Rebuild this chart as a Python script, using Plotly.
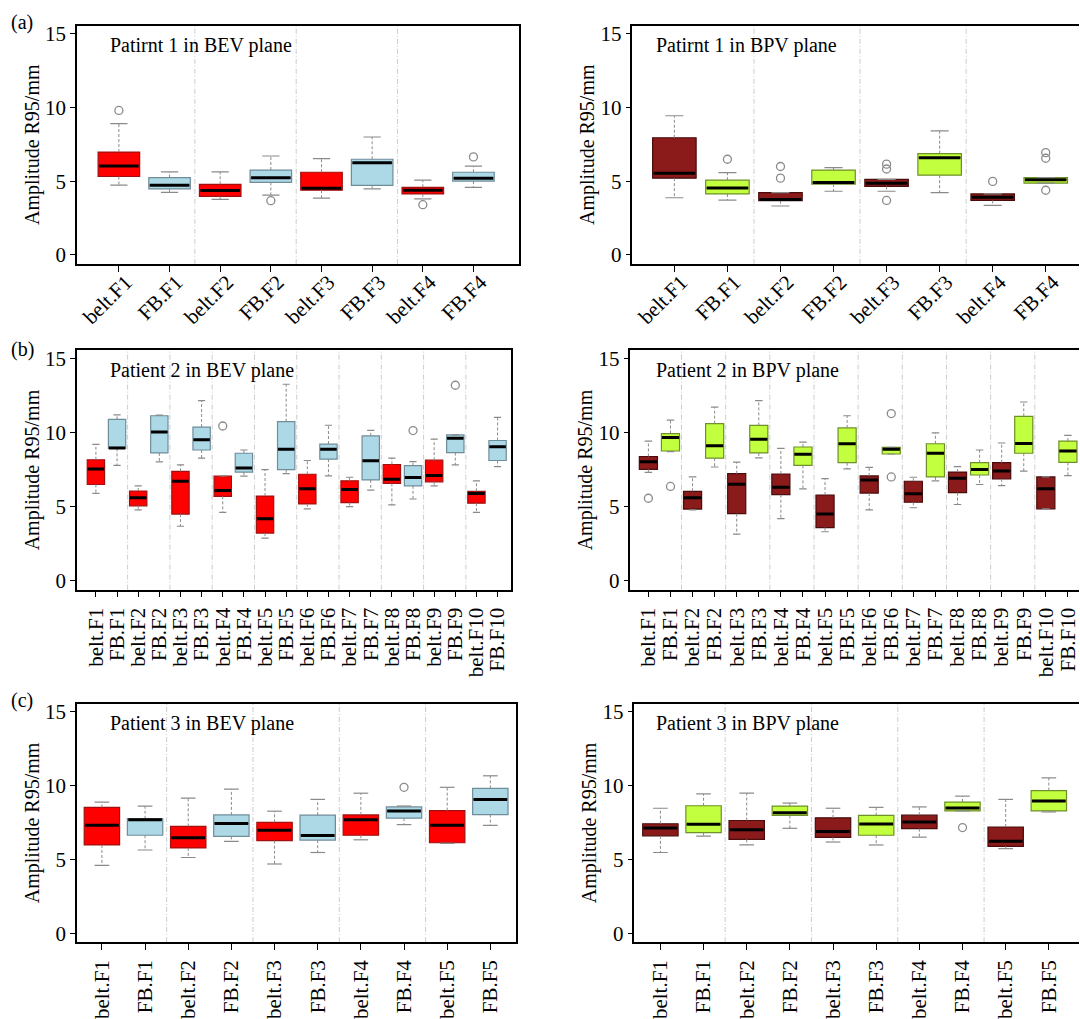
import plotly.graph_objects as go

FONT = "Liberation Serif, Times New Roman, serif"
W, H = 1080, 1019

# ---------------- data: (lower whisker, Q1, median, Q3, upper whisker) ----------------
LABELS_4 = ["belt.F1", "FB.F1", "belt.F2", "FB.F2", "belt.F3", "FB.F3", "belt.F4", "FB.F4"]
LABELS_10 = ["belt.F1", "FB.F1", "belt.F2", "FB.F2", "belt.F3", "FB.F3", "belt.F4", "FB.F4",
             "belt.F5", "FB.F5", "belt.F6", "FB.F6", "belt.F7", "FB.F7", "belt.F8", "FB.F8",
             "belt.F9", "FB.F9", "belt.F10", "FB.F10"]
LABELS_5 = ["belt.F1", "FB.F1", "belt.F2", "FB.F2", "belt.F3", "FB.F3", "belt.F4", "FB.F4",
            "belt.F5", "FB.F5"]

# Patient 1, BEV
P1_BEV_BELT = [(4.74, 5.32, 6.03, 6.98, 8.90), (3.77, 3.97, 4.37, 4.79, 5.63),
               (3.86, 4.39, 4.52, 5.61, 6.54), (3.81, 4.14, 4.39, 4.59, 5.07)]
P1_BEV_BELT_OUT = [[9.80], [], [], [3.41]]
P1_BEV_FB = [(4.25, 4.48, 4.72, 5.25, 5.63), (4.06, 4.92, 5.23, 5.76, 6.71),
             (4.48, 4.72, 6.25, 6.49, 8.00), (4.59, 5.01, 5.21, 5.61, 6.03)]
P1_BEV_FB_OUT = [[], [3.68], [], [6.65]]

# Patient 1, BPV
P1_BPV_BELT = [(3.88, 5.21, 5.54, 7.95, 9.44), (3.32, 3.68, 3.77, 4.23, 4.23),
               (4.32, 4.65, 4.87, 5.12, 5.12), (3.37, 3.70, 3.92, 4.14, 4.14)]
P1_BPV_BELT_OUT = [[], [5.21, 6.00], [3.70, 5.83, 6.16], [4.99]]
P1_BPV_FB = [(3.72, 4.14, 4.54, 5.07, 5.58), (4.32, 4.81, 4.92, 5.76, 5.92),
             (4.23, 5.41, 6.60, 6.87, 8.42), (4.87, 4.87, 5.10, 5.25, 5.25)]
P1_BPV_FB_OUT = [[6.49], [], [], [4.39, 6.56, 6.94]]

# Patient 2, BEV
P2_BEV_BELT = [(5.90, 6.50, 7.54, 8.17, 9.21), (4.79, 5.06, 5.61, 6.06, 6.41),
               (3.68, 4.50, 6.72, 7.39, 7.83), (4.62, 5.70, 6.10, 7.06, 7.08),
               (2.88, 3.22, 4.19, 5.72, 7.50), (4.86, 5.19, 6.21, 7.19, 8.12),
               (5.01, 5.28, 6.17, 6.75, 6.99), (5.13, 6.57, 6.86, 7.85, 8.28),
               (6.41, 6.68, 7.10, 8.14, 9.56), (4.62, 5.24, 5.90, 6.04, 6.75)]
P2_BEV_BELT_OUT = [[], [], [], [10.45], [], [], [], [], [], []]
P2_BEV_FB = [(7.79, 8.94, 8.97, 10.90, 11.20), (8.03, 8.63, 10.05, 11.14, 11.18),
             (8.28, 8.83, 9.52, 10.38, 12.16), (7.06, 7.34, 7.61, 8.61, 8.83),
             (7.23, 7.50, 8.88, 10.74, 13.27), (7.08, 8.21, 8.88, 9.23, 10.50),
             (6.12, 6.81, 8.10, 9.78, 10.16), (5.52, 6.41, 6.97, 7.77, 8.05),
             (7.83, 8.65, 9.63, 9.85, 9.85), (7.70, 8.12, 9.05, 9.47, 11.03)]
P2_BEV_FB_OUT = [[], [], [], [], [], [], [], [10.14], [13.20], []]

# Patient 2, BPV
P2_BPV_BELT = [(7.32, 7.52, 8.03, 8.39, 9.43), (4.79, 4.84, 5.61, 6.04, 7.01),
               (3.15, 4.53, 6.52, 7.23, 8.01), (4.19, 5.81, 6.32, 7.21, 8.94),
               (3.31, 3.59, 4.50, 5.79, 6.90), (4.79, 5.92, 6.81, 7.08, 7.65),
               (4.93, 5.30, 5.88, 6.72, 6.99), (5.15, 5.95, 6.92, 7.34, 7.70),
               (6.43, 6.88, 7.41, 7.97, 9.30), (4.86, 4.86, 6.21, 7.01, 7.01)]
P2_BPV_BELT_OUT = [[5.57], [], [], [], [], [], [], [], [], []]
P2_BPV_FB = [(8.72, 8.76, 9.67, 9.94, 10.85), (7.68, 8.28, 9.12, 10.61, 11.72),
             (8.30, 8.63, 9.56, 10.49, 12.16), (6.21, 7.79, 8.54, 9.03, 9.36),
             (7.55, 7.97, 9.25, 10.32, 11.14), (8.56, 8.56, 8.88, 9.00, 9.00),
             (6.75, 7.01, 8.61, 9.25, 9.98), (6.50, 7.14, 7.52, 7.97, 8.83),
             (7.40, 8.61, 9.27, 11.10, 12.07), (7.10, 7.99, 8.76, 9.43, 9.82)]
P2_BPV_FB_OUT = [[6.37], [], [], [], [], [7.01, 11.29], [], [], [], []]

# Patient 3, BEV
P3_BEV_BELT = [(4.60, 5.98, 7.31, 8.53, 8.89), (5.13, 5.78, 6.47, 7.24, 9.16),
               (4.69, 6.27, 6.98, 7.51, 8.27), (6.33, 6.64, 7.69, 8.02, 9.49),
               (6.09, 6.13, 7.31, 8.31, 9.89)]
P3_BEV_BELT_OUT = [[], [], [], [], []]
P3_BEV_FB = [(5.64, 6.64, 7.69, 7.76, 8.62), (6.22, 6.56, 7.44, 8.02, 9.76),
             (5.47, 6.31, 6.62, 8.00, 9.07), (7.36, 7.80, 8.29, 8.56, 8.62),
             (7.31, 8.04, 9.07, 9.82, 10.67)]
P3_BEV_FB_OUT = [[], [], [], [9.89], []]

# Patient 3, BPV
P3_BPV_BELT = [(5.47, 6.60, 7.13, 7.42, 8.47), (5.98, 6.36, 7.02, 7.64, 9.49),
               (6.18, 6.49, 6.89, 7.82, 8.47), (6.51, 7.09, 7.53, 8.00, 8.56),
               (5.73, 5.89, 6.24, 7.20, 9.07)]
P3_BPV_BELT_OUT = [[], [], [], [], []]
P3_BPV_FB = [(6.58, 6.82, 7.38, 8.64, 9.44), (7.11, 7.98, 8.16, 8.62, 8.82),
             (5.98, 6.64, 7.40, 7.98, 8.53), (8.29, 8.29, 8.49, 8.89, 9.29),
             (8.22, 8.29, 8.96, 9.67, 10.53)]
P3_BPV_FB_OUT = [[], [], [], [7.16], []]

TITLES = ["Patirnt 1 in BEV plane", "Patirnt 1 in BPV plane",
          "Patient 2 in BEV plane", "Patient 2 in BPV plane",
          "Patient 3 in BEV plane", "Patient 3 in BPV plane"]
PANEL_TAGS = ["(a)", "(b)", "(c)"]
Y_TITLE = "Amplitude R95/mm"
Y_TICKS = [0, 5, 10, 15]

# ---------------- styles ----------------
LEFT_COLORS = (("#FF0000", "#A01010"), ("#ADD8E6", "#6F8C99"))
RIGHT_COLORS = (("#8B1A1A", "#4A0C0C"), ("#C2FF3F", "#6E8F2A"))
BOX_W = 0.82
CAP_HW = 0.17
WHISK = "#8A8A8A"

# panel geometry in pixels: (left, right, top, bottom), first tick px, tick spacing px, angle
GEOM = [
    ((77, 519, 23, 265), 119, 50.7, -45),
    ((633, 1080, 23, 265), 675, 53.1, -45),
    ((77, 511, 353, 596), 96, 21.16, -90),
    ((631, 1080, 353, 596), 649, 22.1, -90),
    ((77, 516, 712, 954), 102, 43.2, -90),
    ((635, 1080, 712, 954), 661, 43.2, -90),
]
TITLE_OFF = [31, 22, 31, 24, 31, 20]
PANELS = [
    (P1_BEV_BELT, P1_BEV_BELT_OUT, P1_BEV_FB, P1_BEV_FB_OUT, LABELS_4),
    (P1_BPV_BELT, P1_BPV_BELT_OUT, P1_BPV_FB, P1_BPV_FB_OUT, LABELS_4),
    (P2_BEV_BELT, P2_BEV_BELT_OUT, P2_BEV_FB, P2_BEV_FB_OUT, LABELS_10),
    (P2_BPV_BELT, P2_BPV_BELT_OUT, P2_BPV_FB, P2_BPV_FB_OUT, LABELS_10),
    (P3_BEV_BELT, P3_BEV_BELT_OUT, P3_BEV_FB, P3_BEV_FB_OUT, LABELS_5),
    (P3_BPV_BELT, P3_BPV_BELT_OUT, P3_BPV_FB, P3_BPV_FB_OUT, LABELS_5),
]

fig = go.Figure()
shapes, annotations = [], []

Y0, Y1 = -0.6, 15.55

for k, ((belt, belt_out, fb, fb_out, labels), (box_px, t0, sp, ang)) in enumerate(zip(PANELS, GEOM), start=1):
    l, r, t, b = box_px
    right = (k % 2 == 0)
    sfx = "" if k == 1 else str(k)
    xa, ya = f"x{sfx}", f"y{sfx}"
    colors = RIGHT_COLORS if right else LEFT_COLORS
    n = len(belt)
    series = [
        ([2 * i for i in range(n)], belt, belt_out, colors[0]),
        ([2 * i + 1 for i in range(n)], fb, fb_out, colors[1]),
    ]
    # boxes
    for xs, stats, out, (fill, line) in series:
        fig.add_trace(go.Box(
            x=xs, q1=[s[1] for s in stats], median=[s[2] for s in stats],
            q3=[s[3] for s in stats], lowerfence=[s[1] for s in stats],
            upperfence=[s[3] for s in stats], width=BOX_W, whiskerwidth=0,
            fillcolor=fill, line=dict(color=line, width=1.2), boxpoints=False,
            xaxis=xa, yaxis=ya, showlegend=False, hoverinfo="skip"))
    for xs, stats, out, (fill, line) in series:
        wx, wy, cx, cy, mx, my, ox, oy = [], [], [], [], [], [], [], []
        for x, s, o in zip(xs, stats, out):
            wx += [x, x, None, x, x, None]
            wy += [s[3], s[4], None, s[1], s[0], None]
            cx += [x - CAP_HW, x + CAP_HW, None, x - CAP_HW, x + CAP_HW, None]
            cy += [s[4], s[4], None, s[0], s[0], None]
            mx += [x - BOX_W / 2 + 0.02, x + BOX_W / 2 - 0.02, None]
            my += [s[2], s[2], None]
            ox += [x] * len(o)
            oy += list(o)
        fig.add_trace(go.Scatter(x=wx, y=wy, mode="lines", xaxis=xa, yaxis=ya,
                                 line=dict(color=WHISK, width=1, dash="3px,2px"),
                                 showlegend=False, hoverinfo="skip"))
        fig.add_trace(go.Scatter(x=cx, y=cy, mode="lines", xaxis=xa, yaxis=ya,
                                 line=dict(color=WHISK, width=1.2),
                                 showlegend=False, hoverinfo="skip"))
        fig.add_trace(go.Scatter(x=mx, y=my, mode="lines", xaxis=xa, yaxis=ya,
                                 line=dict(color="#000000", width=3),
                                 showlegend=False, hoverinfo="skip"))
        fig.add_trace(go.Scatter(x=ox, y=oy, mode="markers", xaxis=xa, yaxis=ya,
                                 marker=dict(symbol="circle-open", size=8, color="#8A8A8A",
                                             line=dict(width=1.3, color="#8A8A8A")),
                                 showlegend=False, hoverinfo="skip"))
    # separators between pairs
    for j in range(n - 1):
        shapes.append(dict(type="line", xref=xa, yref=f"{ya} domain",
                           x0=2 * j + 1.5, x1=2 * j + 1.5, y0=0, y1=1,
                           line=dict(color="#CCCCCC", width=1, dash="5px,2px,1px,2px"),
                           layer="below"))
    xr = [(l - t0) / sp, (r - t0) / sp]
    xaxis_extra = dict(ticklabelstandoff=-10, ticklabelshift=7) if ang == -45 else dict(ticklabelstandoff=2)
    fig.update_layout({
        f"xaxis{sfx}": dict(
            domain=[l / W, r / W], range=xr, anchor=ya,
            tickmode="array", tickvals=list(range(2 * n)), ticktext=labels,
            tickangle=ang, ticks="outside", ticklen=6, tickwidth=1.2, tickcolor="#000",
            showline=True, linecolor="#000", linewidth=1.5, mirror=True,
            showgrid=False, zeroline=False, ticklabeloverflow="allow",
            tickfont=dict(family=FONT, size=21, color="#000"),
            **xaxis_extra),
        f"yaxis{sfx}": dict(
            domain=[1 - b / H, 1 - t / H], range=[Y0, Y1], anchor=xa,
            tickmode="array", tickvals=Y_TICKS, ticks="outside", ticklen=5,
            tickwidth=1.2, tickcolor="#000",
            showline=True, linecolor="#000", linewidth=1.5, mirror=(not right),
            showgrid=False, zeroline=False,
            tickfont=dict(family=FONT, size=21, color="#000"),
            title=dict(text=Y_TITLE, standoff=0, font=dict(family=FONT, size=20, color="#000"))),
    })
    annotations.append(dict(
        text=TITLES[k - 1], xref="paper", yref="paper",
        x=(l + TITLE_OFF[k - 1]) / W, y=1 - (t + 20) / H, xanchor="left", yanchor="middle",
        showarrow=False, font=dict(family=FONT, size=20, color="#000")))

for tag, py in zip(PANEL_TAGS, [20, 352, 709]):
    annotations.append(dict(text=tag, xref="paper", yref="paper", x=9 / W, y=1 - py / H,
                            xanchor="left", yanchor="middle", showarrow=False,
                            font=dict(family=FONT, size=20, color="#000")))

fig.update_layout(
    width=W, height=H, autosize=False,
    margin=dict(l=0, r=0, t=0, b=0, pad=0),
    paper_bgcolor="#FFFFFF", plot_bgcolor="#FFFFFF",
    boxmode="overlay", showlegend=False,
    shapes=shapes, annotations=annotations,
    font=dict(family=FONT, size=20, color="#000"),
)

fig.write_html("out.html", config={"displayModeBar": False},
               post_script="document.body.style.margin='0';document.body.style.overflow='hidden';")
